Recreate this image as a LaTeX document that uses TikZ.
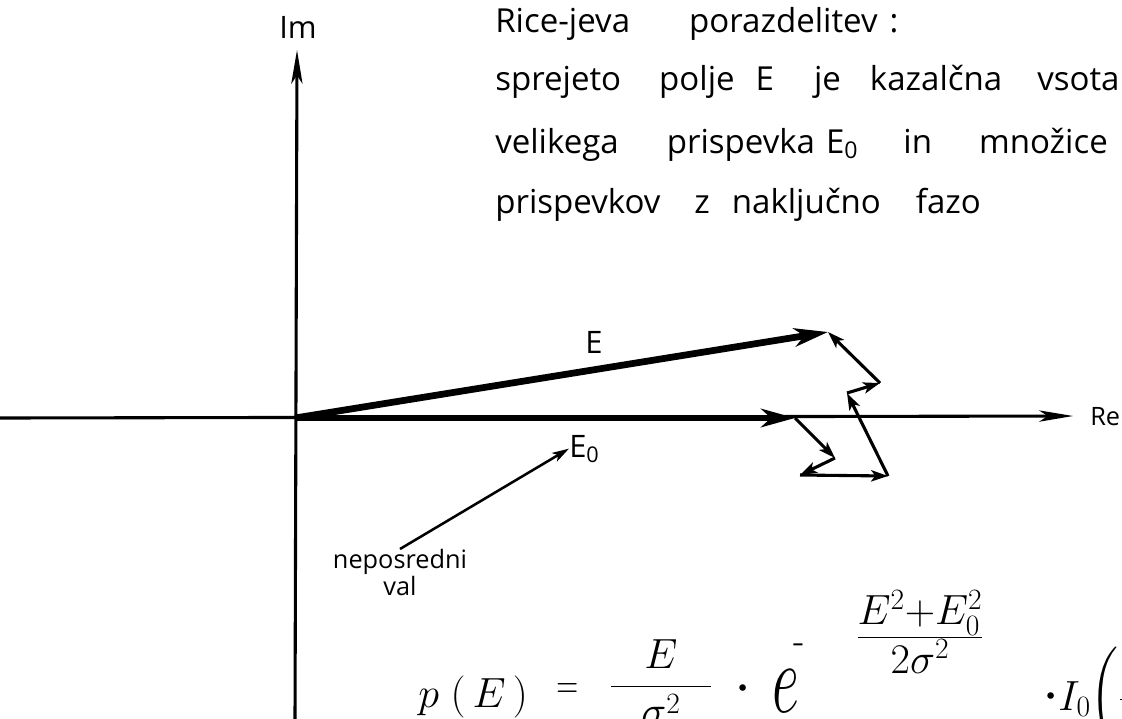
\RequirePackage{fix-cm}
\documentclass[tikz,border=0pt]{standalone}
\usepackage[no-math]{fontspec}
\setmainfont{Open Sans}
\usepackage{amsmath}
\usepackage{graphicx}
\usetikzlibrary{arrows.meta}

\begin{document}
\begin{tikzpicture}[
		x=0.025cm, y=-0.025cm,
		axis/.style={line width=2.2pt, -{Stealth[length=24pt, width=8pt, inset=6pt]}},
		phasor/.style={line width=4.8pt, -{Stealth[length=24pt, width=13pt, inset=7pt]}},
		part/.style={line width=2.2pt, -{Stealth[length=12pt, width=8pt, inset=3pt]}},
		pointer/.style={line width=1.8pt, -{Stealth[length=12pt, width=7pt, inset=3pt]}},
		hand/.style={inner sep=0pt, font=\fontsize{22}{26}\selectfont},
		notes/.style={inner sep=0pt, anchor=base west, font=\fontsize{23.5}{28}\selectfont},
		small/.style={inner sep=0pt, align=center, font=\fontsize{18}{14}\selectfont},
		formula/.style={inner sep=0pt, font=\fontsize{30}{36}\selectfont}
		]
		
		% Page
		\fill[white] (0,0) rectangle (1122,718);
		\useasboundingbox (0,0) rectangle (1122,718);
		\clip (0,0) rectangle (1122,718);
		
		% Axes
		\coordinate (O) at (295,418);
		\coordinate (xl) at (0,418);
		\coordinate (xr) at (1073,416);
		\coordinate (yb) at (295,720);
		\coordinate (yt) at (297,50);
		\draw[axis] (xl) -- (xr);
		\draw[axis] (yb) -- (yt);
		\node[hand, anchor=base] (im) at (298,38) {Im};
		\node[hand, anchor=base west, font=\fontsize{18}{22}\selectfont] (re) at (1090,425) {Re};
		
		% Phasors
		\coordinate (Etip) at (828,332);
		\coordinate (E0tip) at (795,418);
		\draw[phasor] (O) -- (E0tip);
		\draw[phasor] (O) -- (Etip);
		\node[hand, anchor=base] (labE) at (594,353) {E};
		\node[hand, anchor=base west] (labEzero) at (569,457) {E\textsubscript{0}};
		
		% Contributions with random phase
		\coordinate (c1) at (835,458);
		\coordinate (c2) at (800,475);
		\coordinate (c3) at (888,476);
		\coordinate (c4) at (847,393);
		\coordinate (c5) at (880,383);
		\draw[part] (E0tip) -- (c1);
		\draw[part] (c1) -- (c2);
		\draw[part] (c2) -- (c3);
		\draw[part] (c3) -- (c4);
		\draw[part] (c4) -- (c5);
		\draw[part] (c5) -- (Etip);
		
		% Direct wave
		\node[small, anchor=north] (nep) at (400,549) {neposredni\\val};
		\draw[pointer] (nep.north) -- (labEzero.west);
		
		% Description
		\node[notes] (line1) at (495,32) {Rice-jeva\hspace{1.475cm}porazdelitev\hspace{0.3cm}:};
		\node[notes] (line2) at (495,90) {sprejeto\hspace{0.95cm}polje\hspace{0.525cm}E\hspace{1cm}je\hspace{0.725cm}kazalčna\hspace{0.875cm}vsota};
		\node[notes] (line3) at (495,153) {velikega\hspace{1.2cm}prispevka\hspace{0.275cm}E\textsubscript{0}\hspace{1.125cm}in\hspace{1.175cm}množice};
		\node[notes] (line4) at (495,213) {prispevkov\hspace{0.85cm}z\hspace{0.55cm}naključno\hspace{0.875cm}fazo};
		
		% Formula
		\node[formula, anchor=base west] (lhs) at (418,707) {$p\;(\,E\,)$};
		\node[formula, anchor=base west] (eq) at (556,698) {\scalebox{0.72}[1]{$=$}};
		\node[formula, anchor=base] (fracA) at (661,697) {$\dfrac{\makebox[2.5cm]{$E$}}{\sigma^2}$};
		\node[formula, anchor=base] (dotA) at (743,703) {\fontsize{44}{44}\selectfont$\cdot$};
		\node[formula, anchor=base west] (expe) at (772,712) {\scalebox{1.4}[2.35]{$e$}};
		\node[inner sep=0pt, font=\fontsize{24}{24}\selectfont] (minus) at (798,645) {\scalebox{0.45}[1.5]{$-$}};
		\node[formula, anchor=base] (expfrac) at (920,648) {$\frac{\textstyle E^2{+}E_0^2}{\textstyle 2\sigma^2}$};
		\node[formula, anchor=base] (dotB) at (1051,711) {\fontsize{44}{44}\selectfont$\cdot$};
		\node[formula, anchor=base west] (bessel) at (1058,710) {$I_0\!\left(\dfrac{E\,E_0}{\sigma^2}\right)$};
		
	\end{tikzpicture}
\end{document}
